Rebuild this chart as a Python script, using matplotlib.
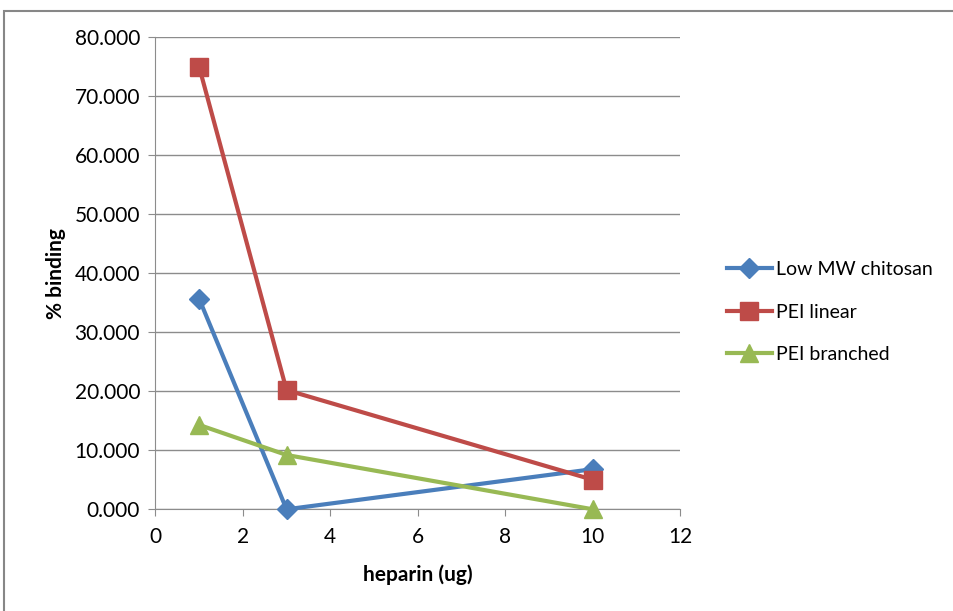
import matplotlib
matplotlib.use("Agg")
import matplotlib.pyplot as plt
from matplotlib.patches import Rectangle

x_vals = [1, 3, 10]
low_mw_chitosan = [35.7, 0.0, 6.8]
pei_linear = [75.0, 20.2, 5.0]
pei_branched = [14.3, 9.2, 0.0]
series_names = ["Low MW chitosan", "PEI linear", "PEI branched"]
y_ticks = [0, 10, 20, 30, 40, 50, 60, 70, 80]
x_ticks = [0, 2, 4, 6, 8, 10, 12]

plt.rcParams['font.family'] = ['Lato', 'DejaVu Sans']

W, H = 954, 611
fig = plt.figure(figsize=(W/100, H/100), dpi=100)
fig.patches.append(Rectangle((4/W, -0.1), 1.2, 1 - 11/H + 0.1, transform=fig.transFigure,
                             fill=False, edgecolor='#878787', linewidth=1.5))

ax = fig.add_axes([155.3/W, 1 - 509.3/H, (680.3-155.3)/W, (509.3-37)/H])
ax.set_xlim(0, 12)
ax.set_ylim(0, 80)

styles = [
    (low_mw_chitosan, '#4A7EBB', 'D', 10),
    (pei_linear, '#BE4B48', 's', 13),
    (pei_branched, '#98B954', '^', 13),
]
for (vals, col, mk, ms), name in zip(styles, series_names):
    ax.plot(x_vals, vals, color=col, marker=mk, markersize=ms, linewidth=3,
            markeredgecolor=col, label=name, clip_on=False, zorder=3)

ax.set_yticks(y_ticks)
ax.set_yticklabels([f"{v:.3f}" for v in y_ticks])
ax.set_xticks(x_ticks)
ax.yaxis.grid(True, color='#8C8C8C', linewidth=1)
ax.set_axisbelow(True)
for s in ['top', 'right']:
    ax.spines[s].set_visible(False)
for s in ['left', 'bottom']:
    ax.spines[s].set_color('#8C8C8C')
ax.tick_params(axis='both', colors='#8C8C8C', labelcolor='black', labelsize=15, length=5, direction='out')
ax.tick_params(axis='y', pad=6)
ax.tick_params(axis='x', pad=8)

ax.set_xlabel("heparin (ug)", fontsize=15, fontweight='bold', labelpad=12)
ax.set_ylabel("% binding", fontsize=15, fontweight='bold', labelpad=6)

leg = fig.legend(loc='center left', bbox_to_anchor=(727/W, 1 - 312/H), frameon=False,
                 fontsize=14, handlelength=2.3, labelspacing=1.3, handletextpad=0.2,
                 borderpad=0, borderaxespad=0)

fig.savefig("out.png", dpi=100)
